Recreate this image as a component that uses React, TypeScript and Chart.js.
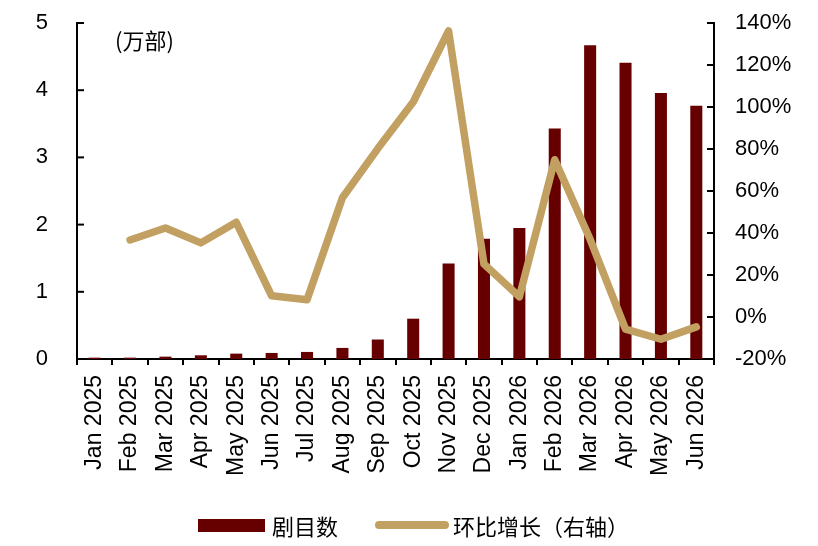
import { useEffect, useRef } from "react";
import { Chart, registerables } from "chart.js";

Chart.register(...registerables);

const months = [
  "Jan 2025", "Feb 2025", "Mar 2025", "Apr 2025", "May 2025", "Jun 2025",
  "Jul 2025", "Aug 2025", "Sep 2025", "Oct 2025", "Nov 2025", "Dec 2025",
  "Jan 2026", "Feb 2026", "Mar 2026", "Apr 2026", "May 2026", "Jun 2026",
];
// 剧目数 (万部)
const showCount = [
  0.02, 0.02, 0.035, 0.055, 0.08, 0.09, 0.105, 0.165, 0.29, 0.6,
  1.42, 1.79, 1.95, 3.43, 4.67, 4.41, 3.96, 3.77,
];
// 环比增长 (%), right axis
const momGrowth = [
  null, 36.7, 42.4, 35.3, 45.1, 10.1, 8.2, 56.8, 80.2, 102.4,
  136.2, 25.2, 9.6, 74.9, 37, -5.8, -10.6, -4.7,
];
const leftTicks = { min: 0, max: 5, step: 1 };
const rightTicks = { min: -20, max: 140, step: 20 };

const BAR_COLOR = "#660000";
const LINE_COLOR = "#C1A062";
const FONT = "'Liberation Sans', Arial, sans-serif";
const CJK = "'Noto Sans CJK SC', sans-serif";

// short tick marks pointing into the plot on both value axes
const innerTicks = {
  id: "innerTicks",
  afterDraw(chart: Chart) {
    const ctx = chart.ctx;
    ctx.save();
    ctx.strokeStyle = "#000";
    ctx.lineWidth = 2;
    const y = chart.scales.y;
    y.ticks.forEach((t) => {
      const p = y.getPixelForValue(t.value);
      ctx.beginPath();
      ctx.moveTo(y.right, p);
      ctx.lineTo(y.right + 7, p);
      ctx.stroke();
    });
    const y1 = chart.scales.y1;
    y1.ticks.forEach((t) => {
      const p = y1.getPixelForValue(t.value);
      ctx.beginPath();
      ctx.moveTo(y1.left, p);
      ctx.lineTo(y1.left - 7, p);
      ctx.stroke();
    });
    ctx.restore();
  },
};

export default function App() {
  const canvasRef = useRef<HTMLCanvasElement>(null);
  const chartRef = useRef<Chart | null>(null);

  useEffect(() => {
    if (!canvasRef.current) return;
    if (chartRef.current) chartRef.current.destroy();

    chartRef.current = new Chart(canvasRef.current, {
      type: "bar",
      data: {
        labels: months,
        datasets: [
          {
            type: "line",
            label: "环比增长（右轴）",
            data: momGrowth,
            yAxisID: "y1",
            borderColor: LINE_COLOR,
            backgroundColor: LINE_COLOR,
            borderWidth: 7.5,
            pointRadius: 0,
            tension: 0,
            borderCapStyle: "round",
            borderJoinStyle: "round",
            order: 0,
          },
          {
            type: "bar",
            label: "剧目数",
            data: showCount,
            yAxisID: "y",
            backgroundColor: BAR_COLOR,
            categoryPercentage: 1,
            barPercentage: 0.34,
            order: 1,
          },
        ],
      },
      options: {
        animation: false,
        responsive: false,
        maintainAspectRatio: false,
        layout: { padding: { top: 23, left: 0, right: 0, bottom: 0 } },
        plugins: {
          legend: { display: false },
          tooltip: { enabled: false },
        },
        scales: {
          x: {
            offset: true,
            grid: {
              display: true,
              offset: true,
              drawOnChartArea: false,
              drawTicks: true,
              tickLength: 6,
              color: "#000",
              lineWidth: 2,
            },
            border: { display: true, color: "#000", width: 2 },
            ticks: {
              color: "#000",
              font: { family: FONT, size: 23 },
              maxRotation: 90,
              minRotation: 90,
              autoSkip: false,
              padding: 10,
            },
            afterFit: (s: any) => {
              s.height = 546 - 359;
            },
          },
          y: {
            position: "left",
            min: leftTicks.min,
            max: leftTicks.max,
            grid: { display: false, drawTicks: false },
            border: { display: true, color: "#000", width: 2 },
            ticks: {
              stepSize: leftTicks.step,
              color: "#000",
              font: { family: FONT, size: 22 },
              padding: 29,
            },
            afterFit: (s: any) => {
              s.width = 77;
              s.paddingTop = 0;
              s.paddingBottom = 0;
            },
          },
          y1: {
            position: "right",
            min: rightTicks.min,
            max: rightTicks.max,
            grid: { display: false, drawTicks: false },
            border: { display: true, color: "#000", width: 2 },
            ticks: {
              stepSize: rightTicks.step,
              color: "#000",
              font: { family: FONT, size: 22 },
              padding: 21,
              callback: (v: any) => v + "%",
            },
            afterFit: (s: any) => {
              s.width = 818 - 714;
              s.paddingTop = 0;
              s.paddingBottom = 0;
            },
          },
        },
      },
      plugins: [innerTicks],
    });

    return () => {
      if (chartRef.current) {
        chartRef.current.destroy();
        chartRef.current = null;
      }
    };
  }, []);

  return (
    <div style={{ position: "fixed", left: 0, top: 0, width: 818, height: 546, background: "#fff" }}>
      <canvas ref={canvasRef} width={818} height={546} style={{ width: 818, height: 546 }} />
      <div style={{ position: "absolute", left: 115, top: 25, fontFamily: CJK, fontSize: 22, color: "#000", lineHeight: "28px" }}>
        (万部)
      </div>
      <div style={{ position: "absolute", left: 198, top: 511, height: 28, display: "flex", alignItems: "center", fontFamily: CJK, fontSize: 22, color: "#000" }}>
        <span style={{ display: "inline-block", width: 67, height: 13, background: BAR_COLOR, marginRight: 7 }} />
        <span>剧目数</span>
        <span style={{ display: "inline-block", width: 74, height: 8, borderRadius: 4, background: LINE_COLOR, marginLeft: 37, marginRight: 4 }} />
        <span>环比增长（右轴）</span>
      </div>
    </div>
  );
}
